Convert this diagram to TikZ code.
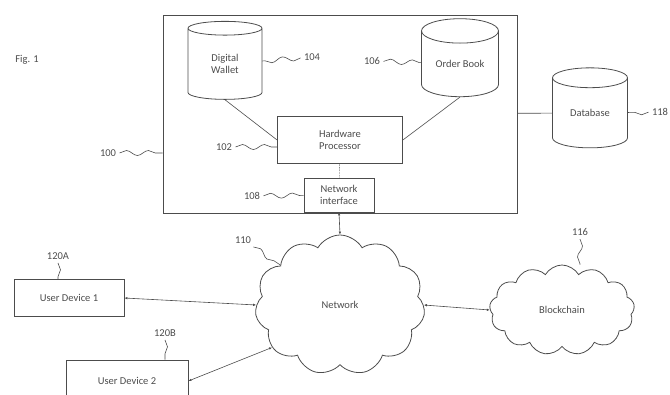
\documentclass[tikz,border=0pt]{standalone}
\usepackage{fontspec}
\setmainfont{Carlito}
\usetikzlibrary{arrows.meta}
\usetikzlibrary{decorations.pathmorphing}
\usetikzlibrary{positioning}
\usetikzlibrary{shapes.geometric}
\usetikzlibrary{shapes.symbols}
\definecolor{ink}{rgb}{0.3, 0.3, 0.3}
\tikzset{box/.style = {draw=ink, line width=0.8pt, align=center, inner sep=0}}
\tikzset{drum/.style = {box, cylinder, shape border rotate=90, aspect=0.5}}
\tikzset{puff/.style = {box, cloud, cloud puffs=#1, cloud puff arc=120}}
\tikzset{wire/.style = {draw=ink, line width=0.6pt}}
\tikzset{lead/.style = {wire, decorate, decoration={snake, amplitude=2.5pt, segment length=22pt}}}
\tikzset{link/.style = {wire, {Latex[length=3pt, width=2.5pt]}-{Latex[length=3pt, width=2.5pt]}}}

\begin{document}
\begin{tikzpicture}[x=1pt, y=-1pt, font=\fontsize{10.5}{12}\selectfont, text=ink]
      \useasboundingbox (0, 0) rectangle (670, 394);
      \node (fig) at (27, 60) {Fig. 1};

      % server and its parts
      \node [box, minimum width=354pt, minimum height=198pt] (main) at (340, 114) {};
      \node [drum, minimum width=74pt, minimum height=78pt] (wallet) at (225, 64) {Digital\\Wallet};
      \node [drum, minimum width=77pt, minimum height=78pt] (book) at (460, 64) {Order Book};
      \node [box, minimum width=125pt, minimum height=47pt] (hp) at (340, 140) {Hardware\\Processor};
      \node [box, minimum width=70pt, minimum height=34pt] (ni) at (339, 195) {Network\\interface};
      \node [drum, minimum width=75pt, minimum height=80pt] (db) at (590, 113) {Database};

      % outside
      \node [puff=11, minimum width=170pt, minimum height=140pt] (net) at (340, 305) {Network};
      \node [puff=13, minimum width=145pt, minimum height=90pt] (chain) at (562, 310) {Blockchain};
      \node [box, minimum width=110pt, minimum height=37pt] (ud1) at (69, 298) {User Device 1};
      \node [box, minimum width=122pt, minimum height=42pt] (ud2) at (127, 381) {User Device 2};

      \draw [wire] (wallet.bottom) -- (hp.west);
      \draw [wire] (book.bottom) -- (hp.east);
      \draw [wire, densely dotted] (hp) -- (ni);
      \draw [wire] (main) -- (db);
      \draw [link] (ni.south) -- (net.north);
      \draw [link] (ud1.east) -- (net.west);
      \draw [link] (ud2.east) -- (net.212);
      \draw [link] (net.east) -- (chain.west);

      % reference numerals
      \node (l100) at (108, 153) {100};
      \node (l102) at (224, 147) {102};
      \node (l104) at (312, 57) {104};
      \node (l106) at (372, 61) {106};
      \node (l108) at (252, 196) {108};
      \node (l110) at (243, 240) {110};
      \node (l116) at (580, 232) {116};
      \node (l118) at (660, 112) {118};
      \node (l120a) at (58, 256) {120A};
      \node (l120b) at (165, 333) {120B};

      \draw [lead] (l100.east) -- (main.west |- l100);
      \draw [lead] (l102.east) -- (hp.west |- l102);
      \draw [lead] (l104) -- (wallet);
      \draw [lead] (l106) -- (book);
      \draw [lead] (l108) -- (ni);
      \draw [lead] (l110) -- (net);
      \draw [lead] (l116.south) -- (l116.south |- chain.north);
      \draw [lead] (l118) -- (db);
      \draw [lead] (l120a.south) -- (l120a.south |- ud1.north);
      \draw [lead] (l120b.south) -- (l120b.south |- ud2.north);
    \end{tikzpicture}
\end{document}
